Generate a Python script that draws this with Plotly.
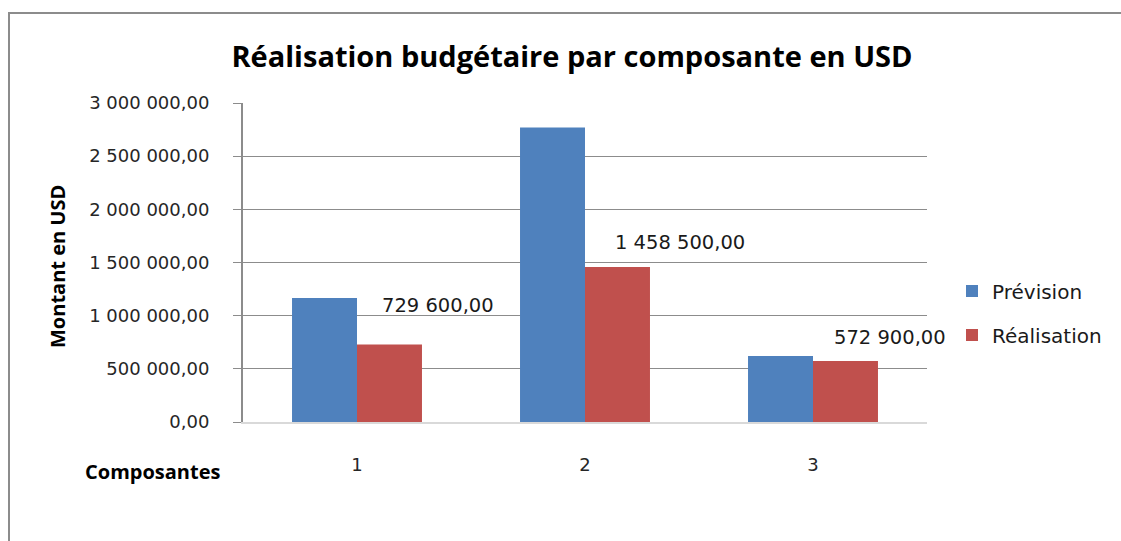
import plotly.graph_objects as go

composantes = ["1", "2", "3"]
prevision = [1165000, 2770000, 620000]
realisation = [729600, 1458500, 572900]

# offsets (px) des étiquettes de données, déplacées comme dans Excel
label_dx = [23, 28, 19]
label_dy = [39, 24, 24]

W, H = 1121, 541
L, R, T, B = 243, 194, 103, 119
pw, ph = W - L - R, H - T - B


def fr(v):
    return "{:,.2f}".format(v).replace(",", " ").replace(".", ",")


fig = go.Figure()
fig.add_trace(go.Bar(x=composantes, y=prevision, name="Prévision",
                     marker=dict(color="#4f81bd", line=dict(width=0)),
                     legendgroup="a"))
fig.add_trace(go.Bar(x=composantes, y=realisation, name="Réalisation",
                     marker=dict(color="#c0504d", line=dict(width=0)),
                     legendgroup="b"))

annotations = []
for i, (v, dx, dy) in enumerate(zip(realisation, label_dx, label_dy)):
    annotations.append(dict(x=i, y=v, xref="x", yref="y", text=fr(v), showarrow=False,
                            xanchor="left", yanchor="middle", xshift=dx, yshift=dy,
                            font=dict(family="DejaVu Sans", size=19.5, color="#1a1a1a")))

# titres des axes
annotations.append(dict(x=(57 - L) / pw, y=(H - B - 267) / ph, xref="paper", yref="paper",
                        text="<b>Montant en USD</b>", textangle=-90, showarrow=False,
                        xanchor="center", yanchor="middle",
                        font=dict(family="Open Sans", size=20, color="#000000")))
annotations.append(dict(x=(152 - L) / pw, y=(H - B - 471) / ph, xref="paper", yref="paper",
                        text="<b>Composantes</b>", showarrow=False,
                        xanchor="center", yanchor="middle",
                        font=dict(family="Open Sans", size=20, color="#000000")))

fig.update_layout(
    width=W, height=H,
    margin=dict(l=L, r=R, t=T, b=B),
    paper_bgcolor="white", plot_bgcolor="white",
    separators=", ",
    barmode="group", bargap=0.43, bargroupgap=0,
    title=dict(text="<b>Réalisation budgétaire par composante en USD</b>",
               x=572 / W, xanchor="center", y=1 - 57 / H, yanchor="middle",
               font=dict(family="Open Sans", size=29, color="#000000")),
    legend=dict(x=(952 - L) / pw, y=(H - B - 313) / ph, xanchor="left", yanchor="middle",
                font=dict(family="DejaVu Sans", size=20, color="#1a1a1a"),
                tracegroupgap=15, bgcolor="rgba(0,0,0,0)"),
    annotations=annotations,
    shapes=[dict(type="rect", xref="paper", yref="paper",
                 x0=(9 - L) / pw, x1=(W + 10 - L) / pw,
                 y0=(H - B - (H + 10)) / ph, y1=(H - B - 13) / ph,
                 line=dict(color="#8c8c8c", width=2), layer="below")],
    xaxis=dict(type="category", range=[-0.5, 2.5], showgrid=False, showline=True,
               linecolor="#d9d9d9", linewidth=2,
               ticks="", ticklabelstandoff=25,
               tickfont=dict(family="DejaVu Sans", size=18, color="#262626")),
    yaxis=dict(range=[0, 3000000], dtick=500000, tickformat=",.2f",
               showgrid=True, gridcolor="#8c8c8c", gridwidth=1,
               zeroline=False, showline=True, linecolor="#8c8c8c", linewidth=2,
               ticks="outside", ticklen=8, tickcolor="#8c8c8c", ticklabelstandoff=20,
               tickfont=dict(family="DejaVu Sans", size=18, color="#262626")),
)

# pas de marge autour du graphique dans la page
fig.write_html("out.html", config={"displayModeBar": False},
               post_script="document.body.style.margin='0';")
